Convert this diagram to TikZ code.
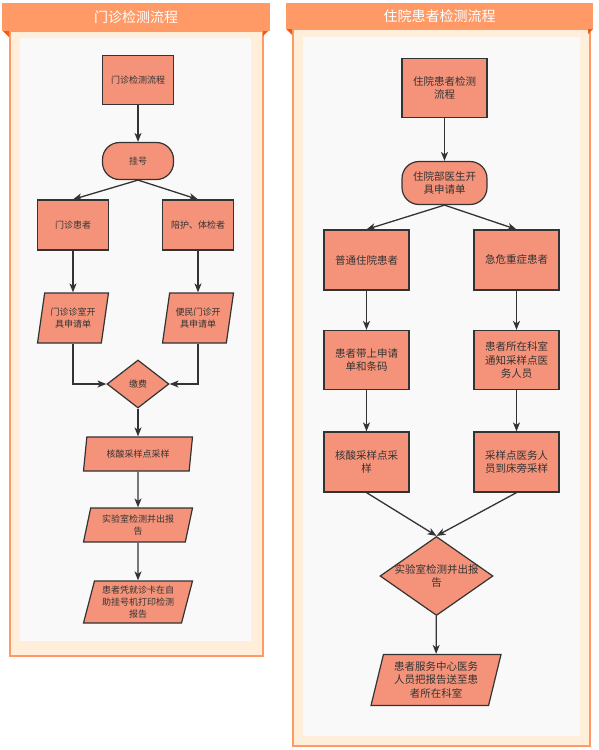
\documentclass[tikz,border=0pt]{standalone}
\usepackage{fontspec}
\setmainfont{Noto Sans CJK SC}
\usepackage{tikz}
\usetikzlibrary{shapes.geometric,arrows.meta}
\definecolor{hdorange}{HTML}{FF9966}
\definecolor{hddark}{HTML}{F05A14}
\definecolor{cream}{HTML}{FFEFDA}
\definecolor{panelgray}{HTML}{F9F9F9}
\definecolor{nodefill}{HTML}{F4937A}
\definecolor{linegray}{HTML}{333333}

\begin{document}
\begin{tikzpicture}[x=1pt,y=-1pt,
  box/.style={draw=linegray,fill=nodefill,line width=1.2pt,align=center,text=linegray,inner sep=1pt},
  pill/.style={box,rounded corners=17pt},
  para/.style={box,trapezium,trapezium left angle=72,trapezium right angle=108,trapezium stretches body=true},
  dia/.style={box,diamond},
  lbl/.style={align=center,text=linegray,inner sep=0pt},
  small/.style={font=\fontsize{9}{11.7}\selectfont},
  big/.style={font=\fontsize{10.5}{13.3}\selectfont},
  title/.style={text=white,font=\fontsize{14}{16}\selectfont},
  arr/.style={draw=linegray,line width=1.3pt,-{Stealth[length=9pt,width=7pt,inset=2.5pt]}}]
\useasboundingbox (0,0) rectangle (598,750);
% left panel
\draw[hdorange,line width=2pt,fill=cream] (10,31) rectangle (263,656);
\fill[panelgray] (20,38) rectangle (251,641);
\fill[hdorange] (2,3) rectangle (270,31);
\fill[hddark] (3,31) -- (9,31) -- (9,37) -- cycle;
\fill[hddark] (263,31) -- (268,31) -- (263,36) -- cycle;
\node[title] (mztitle) at (136,17) {门诊检测流程};
% right panel
\draw[hdorange,line width=2pt,fill=cream] (293,29) rectangle (589.5,745.5);
\fill[panelgray] (303,37) rectangle (580,735.5);
\fill[hdorange] (286,3) rectangle (593,29);
\fill[hddark] (286,29) -- (292,29) -- (292,35) -- cycle;
\fill[hddark] (588,29) -- (593,29) -- (588,34) -- cycle;
\node[title] (zytitle) at (439.5,16) {住院患者检测流程};

% outpatient
\node[box,small,minimum width=71pt,minimum height=49pt] (mzstart) at (138,80) {门诊检测流程};
\node[pill,small,minimum width=71pt,minimum height=37pt] (mzreg) at (138,161) {挂号};
\node[box,small,minimum width=71pt,minimum height=50pt] (mzpat) at (73,225) {门诊患者};
\node[box,small,minimum width=71pt,minimum height=50pt] (mzesc) at (198,225) {陪护、体检者};
\node[para,small,minimum width=71pt,minimum height=50pt] (mzform1) at (73,318) {门诊诊室开\\具申请单};
\node[para,small,minimum width=71pt,minimum height=50pt] (mzform2) at (198,318) {便民门诊开\\具申请单};
\node[dia,small,minimum width=62pt,minimum height=48pt] (mzpay) at (138,384) {缴费};
\node[para,small,minimum width=109pt,minimum height=34pt] (mzsam) at (138,454) {核酸采样点采样};
\node[para,small,minimum width=109pt,minimum height=34pt] (mzlab) at (138,525) {实验室检测并出报\\告};
\node[para,small,minimum width=109pt,minimum height=42pt] (mzprint) at (138,602) {患者凭就诊卡在自\\助挂号机打印检测\\报告};
\draw[arr] (mzstart) -- (mzreg);
\draw[arr] (mzreg.south) -- (mzpat.north);
\draw[arr] (mzreg.south) -- (mzesc.north);
\draw[arr] (mzpat) -- (mzform1);
\draw[arr] (mzesc) -- (mzform2);
\draw[arr] (mzform1.south) |- (mzpay.west);
\draw[arr] (mzform2.south) |- (mzpay.east);
\draw[arr] (mzpay) -- (mzsam);
\draw[arr] (mzsam) -- (mzlab);
\draw[arr] (mzlab) -- (mzprint);

% inpatient
\node[box,big,minimum width=85pt,minimum height=59pt] (zystart) at (444.5,88) {住院患者检测\\流程};
\node[pill,big,minimum width=85pt,minimum height=43pt] (zydoc) at (444.5,183) {住院部医生开\\具申请单};
\node[box,big,minimum width=85pt,minimum height=60pt] (zynorm) at (366.5,260) {普通住院患者};
\node[box,big,minimum width=85pt,minimum height=60pt] (zyemer) at (516.5,260) {急危重症患者};
\node[box,big,minimum width=85pt,minimum height=59pt] (zycode) at (366.5,360) {患者带上申请\\单和条码};
\node[box,big,minimum width=85pt,minimum height=59pt] (zyinform) at (516.5,360) {患者所在科室\\通知采样点医\\务人员};
\node[box,big,minimum width=85pt,minimum height=60pt] (zysam1) at (366.5,462) {核酸采样点采\\样};
\node[box,big,minimum width=85pt,minimum height=60pt] (zysam2) at (516.5,462) {采样点医务人\\员到床旁采样};
\node[dia,minimum width=113pt,minimum height=79pt] (zylab) at (436.5,576) {};
\node[lbl,big] (zylabtext) at (zylab.center) {实验室检测并出报\\告};
\node[para,big,minimum width=130pt,minimum height=51pt] (zysend) at (436,680) {患者服务中心医务\\人员把报告送至患\\者所在科室};
\draw[arr] (zystart) -- (zydoc);
\draw[arr] (zydoc.south) -- (zynorm.north);
\draw[arr] (zydoc.south) -- (zyemer.north);
\draw[arr] (zynorm) -- (zycode);
\draw[arr] (zyemer) -- (zyinform);
\draw[arr] (zycode) -- (zysam1);
\draw[arr] (zyinform) -- (zysam2);
\draw[arr] (zysam1.south) -- (zylab.north);
\draw[arr] (zysam2.south) -- (zylab.north);
\draw[arr] (zylab) -- (zysend);
\end{tikzpicture}
\end{document}
